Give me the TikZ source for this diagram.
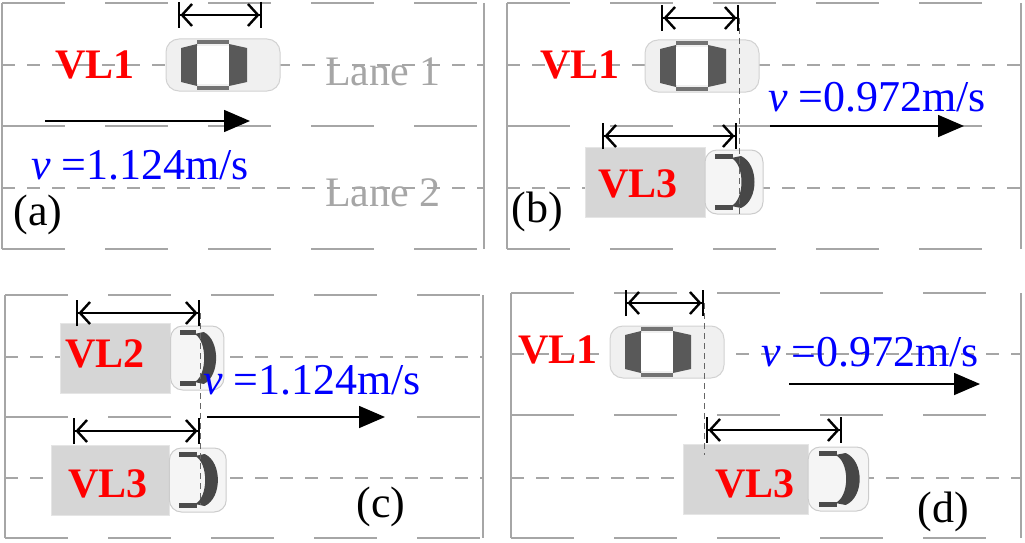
\documentclass[tikz,border=0pt]{standalone}
\usepackage{fontspec}
\setmainfont{Liberation Serif}
\usetikzlibrary{arrows.meta,positioning}
\colorlet{roadColor}{black!35}
\colorlet{vlColor}{red}
\colorlet{speedColor}{blue}
\tikzset{
  edge/.style={roadColor, line width=2.6pt},
  border/.style={edge, dash pattern=on 63pt off 40pt},
  lane/.style={roadColor, line width=1.8pt, dash pattern=on 13pt off 12pt},
  gap/.style={black!60, line width=1pt, dash pattern=on 6pt off 4pt},
  span/.style={line width=2.4pt, {Bar[width=26pt]Straight Barb[length=10pt,width=22pt]}-{Straight Barb[length=10pt,width=22pt]Bar[width=26pt]}},
  move/.style={line width=1.6pt, -{Triangle[length=26pt,width=22pt]}},
  vl/.style={vlColor, font=\fontsize{42}{42}\selectfont\bfseries},
  speed/.style={speedColor, font=\fontsize{44}{44}\selectfont},
  lbl/.style={font=\fontsize{44}{44}\selectfont},
  lanename/.style={roadColor, font=\fontsize{42}{42}\selectfont}
}
% a car seen from above, facing right
\newcommand\sedanAt[2]{%
  \begin{scope}[shift={(#1,#2)}]
    \fill[gray!12, draw=gray!35, line width=1pt, rounded corners=13pt] (-57,-26) rectangle (57,26);
    \fill[black!65] (-42,-17) -- (-26,-21) -- (-26,21) -- (-42,17) -- cycle;
    \fill[black!65] (6,-21) -- (24,-17) -- (24,17) -- (6,21) -- cycle;
    \fill[black!55] (-26,-25) -- (6,-25) -- (6,-21) -- (-26,-21) -- cycle;
    \fill[black!55] (-26,21) -- (6,21) -- (6,25) -- (-26,25) -- cycle;
    \fill[white] (-26,-19) rectangle (6,19);
  \end{scope}}
% a truck seen from above, facing right
\newcommand\truckAt[3]{%
  \begin{scope}[shift={(#1,#2)}, xscale=#3]
    \fill[gray!32, draw=gray!20, line width=1pt] (-90,-35) rectangle (30,35);
    \fill[gray!8, draw=gray!40, line width=1pt, rounded corners=12pt] (30,-32) rectangle (88,32);
    \fill[black!72] (56,-24) .. controls (70,-18) and (70,18) .. (56,24) -- (66,26) .. controls (84,18) and (84,-18) .. (66,-26) -- cycle;
    \fill[black!70] (40,-28) rectangle (58,-23);
    \fill[black!70] (40,23) rectangle (58,28);
  \end{scope}}
\begin{document}
\begin{tikzpicture}[x=1pt, y=-1pt]
\useasboundingbox (0,0) rectangle (1025,543);
% (a)
\draw[edge] (2,3) -- (2,249);
\draw[edge] (484,3) -- (484,249);
\foreach \yy in {3,126,249} \draw[border] (2,\yy) -- (484,\yy);
\foreach \yy in {65,188} \draw[lane] (2,\yy) -- (484,\yy);
\sedanAt{223}{65}
\draw[span] (178,15) -- (262,15);
\node[vl] (vlA) at (95,65) {VL1};
\node[lanename] (laneA) at (383,72) {Lane 1};
\node[lanename] (laneB) at (383,193) {Lane 2};
\coordinate (mA0) at (45,121);
\coordinate (mA1) at (250,121);
\draw[move] (mA0) -- (mA1);
\node[speed] (vA) at (140,165) {\textit{v} =1.124m/s};
\node[lbl] (tagA) at (38,215) {(a)};
% (b)
\draw[edge] (507,3) -- (507,249);
\draw[edge] (1021,3) -- (1021,249);
\foreach \yy in {3,126,249} \draw[border] (507,\yy) -- (1021,\yy);
\foreach \yy in {65,188} \draw[lane] (507,\yy) -- (1021,\yy);
\sedanAt{702}{66}
\truckAt{675}{182}{1}
\draw[gap] (739,18) -- (739,215);
\draw[span] (661,18) -- (739,18);
\draw[span] (602,136) -- (737,136);
\node[vl] (vlB) at (580,65) {VL1};
\node[vl] (vlC) at (638,184) {VL3};
\coordinate (mB0) at (770,126);
\coordinate (mB1) at (964,126);
\draw[move] (mB0) -- (mB1);
\node[speed] (vB) at (877,97) {\textit{v} =0.972m/s};
\node[lbl] (tagB) at (537,212) {(b)};
% (c)
\draw[edge] (5,295) -- (5,538);
\draw[edge] (483,295) -- (483,538);
\foreach \yy in {295,417,538} \draw[border] (5,\yy) -- (483,\yy);
\foreach \yy in {357,478} \draw[lane] (5,\yy) -- (483,\yy);
\truckAt{143}{358}{0.92}
\truckAt{140}{480}{0.98}
\draw[gap] (200,313) -- (200,505);
\draw[span] (76,313) -- (200,313);
\draw[span] (73,431) -- (200,431);
\node[vl] (vlD) at (105,354) {VL2};
\node[vl] (vlE) at (108,484) {VL3};
\coordinate (mC0) at (207,417);
\coordinate (mC1) at (385,417);
\draw[move] (mC0) -- (mC1);
\node[speed] (vC) at (312,380) {\textit{v} =1.124m/s};
\node[lbl] (tagC) at (381,507) {(c)};
% (d)
\draw[edge] (511,293) -- (511,538);
\draw[edge] (1021,293) -- (1021,538);
\foreach \yy in {293,415,538} \draw[border] (511,\yy) -- (1021,\yy);
\foreach \yy in {354,478} \draw[lane] (511,\yy) -- (1021,\yy);
\sedanAt{667}{352}
\truckAt{777}{479}{1.04}
\draw[gap] (704,303) -- (704,455);
\draw[span] (625,303) -- (704,303);
\draw[span] (706,430) -- (842,430);
\node[vl] (vlF) at (558,350) {VL1};
\node[vl] (vlG) at (755,484) {VL3};
\coordinate (mD0) at (789,384);
\coordinate (mD1) at (980,384);
\draw[move] (mD0) -- (mD1);
\node[speed] (vD) at (870,352) {\textit{v} =0.972m/s};
\node[lbl] (tagD) at (943,512) {(d)};
\end{tikzpicture}
\end{document}
